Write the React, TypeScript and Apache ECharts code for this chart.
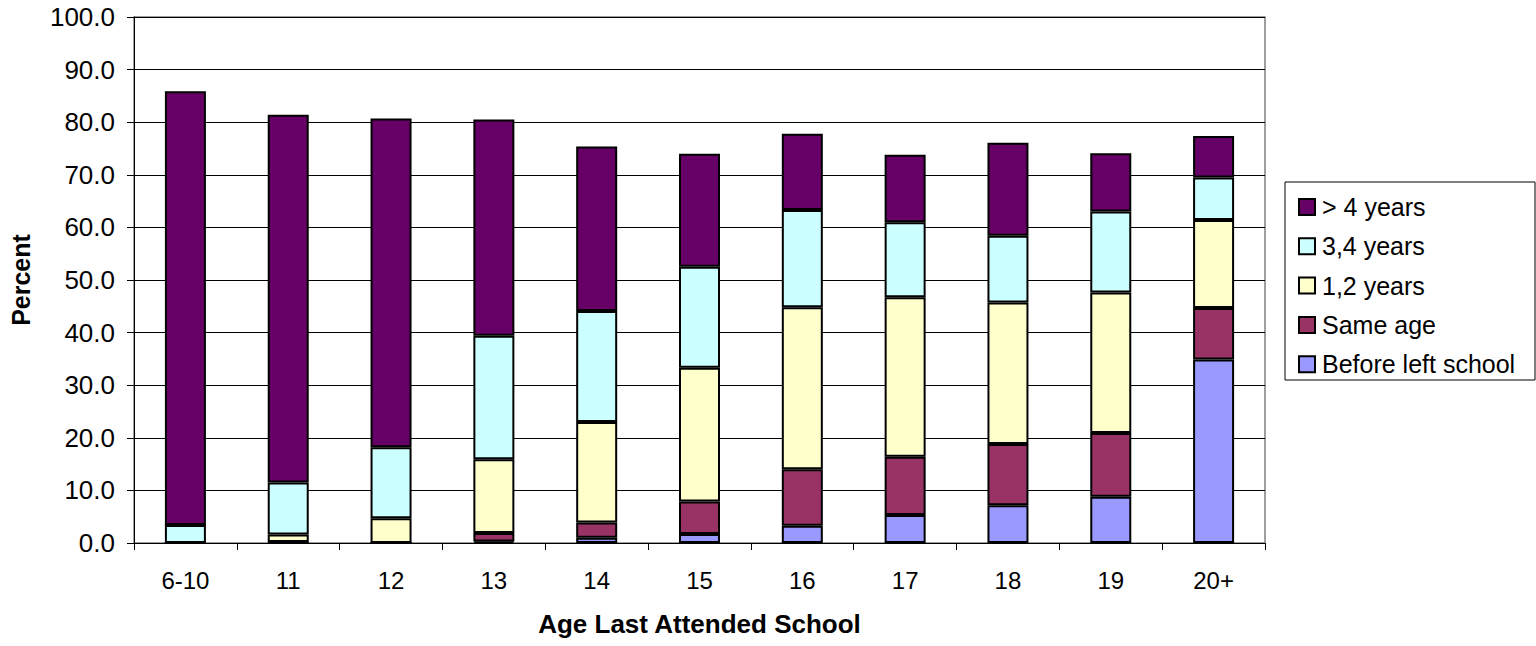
import React, { useEffect, useRef } from "react";
import * as echarts from "echarts";

const categories = ["6-10", "11", "12", "13", "14", "15", "16", "17", "18", "19", "20+"];

const beforeLeftSchool = [0, 0, 0, 0.3, 1.0, 1.7, 3.3, 5.3, 7.2, 8.8, 34.9];
const sameAge = [0, 0.2, 0, 1.6, 2.9, 6.2, 10.7, 11.1, 11.6, 12.1, 9.8];
const oneTwoYears = [0, 1.4, 4.7, 14.0, 19.1, 25.4, 30.8, 30.3, 26.9, 26.7, 16.7];
const threeFourYears = [3.4, 9.9, 13.5, 23.5, 21.1, 19.2, 18.5, 14.3, 12.7, 15.4, 8.1];
const overFourYears = [82.5, 69.9, 62.5, 41.1, 31.3, 21.5, 14.5, 12.8, 17.7, 11.1, 7.9];

const seriesDefs = [
  { name: "Before left school", data: beforeLeftSchool, color: "#9999FF" },
  { name: "Same age", data: sameAge, color: "#993366" },
  { name: "1,2 years", data: oneTwoYears, color: "#FFFFCC" },
  { name: "3,4 years", data: threeFourYears, color: "#CCFFFF" },
  { name: "> 4 years", data: overFourYears, color: "#660066" },
];

const legendOrder = ["> 4 years", "3,4 years", "1,2 years", "Same age", "Before left school"];

const FONT = "'Liberation Sans', Arial, sans-serif";

export default function App() {
  const ref = useRef<HTMLDivElement>(null);

  useEffect(() => {
    if (!ref.current) return;
    const chart = echarts.init(ref.current, null, { renderer: "svg" });
    chart.setOption({
      animation: false,
      backgroundColor: "#ffffff",
      textStyle: { fontFamily: FONT },
      grid: {
        left: 134,
        right: 271,
        top: 17,
        bottom: 103,
        containLabel: false,
        outerBoundsMode: "none",
        show: true,
        borderColor: "#808080",
        borderWidth: 1.5,
        backgroundColor: "transparent",
      },
      legend: {
        orient: "vertical",
        left: 1293,
        top: 189,
        data: legendOrder,
        icon: "rect",
        itemWidth: 16,
        itemHeight: 16,
        itemGap: 13.3,
        textStyle: {
          fontFamily: FONT,
          fontSize: 25,
          color: "#000",
          lineHeight: 26,
          padding: [0, 0, 0, 2],
        },
      },
      graphic: [
        {
          type: "rect",
          shape: { x: 1285, y: 182, width: 250, height: 198 },
          style: { fill: "none", stroke: "#000", lineWidth: 1 },
          silent: true,
        },
      ],
      xAxis: {
        type: "category",
        data: categories,
        name: "Age Last Attended School",
        nameLocation: "middle",
        nameGap: 68,
        nameTextStyle: { fontFamily: FONT, fontSize: 26, fontWeight: "bold", color: "#000" },
        axisLine: { lineStyle: { color: "#000", width: 1 } },
        axisTick: { show: true, length: 7, alignWithLabel: false, lineStyle: { color: "#000" } },
        axisLabel: { fontFamily: FONT, fontSize: 24, color: "#000", margin: 25 },
      },
      yAxis: {
        type: "value",
        min: 0,
        max: 100,
        interval: 10,
        name: "Percent",
        nameLocation: "middle",
        nameGap: 101,
        nameTextStyle: { fontFamily: FONT, fontSize: 25, fontWeight: "bold", color: "#000" },
        axisLine: { show: true, lineStyle: { color: "#000", width: 1 } },
        axisTick: { show: true, length: 7, lineStyle: { color: "#000" } },
        axisLabel: {
          fontFamily: FONT,
          fontSize: 26,
          color: "#000",
          margin: 19,
          formatter: (v: number) => v.toFixed(1),
        },
        splitLine: { show: true, lineStyle: { color: "#000", width: 1 } },
      },
      series: seriesDefs.map((s) => ({
        type: "bar",
        name: s.name,
        stack: "total",
        data: s.data,
        barWidth: 41,
        itemStyle: { color: s.color, borderColor: "#000", borderWidth: 2 },
        emphasis: { disabled: true },
      })),
    });
    return () => chart.dispose();
  }, []);

  return (
    <div
      ref={ref}
      style={{ position: "fixed", left: 0, top: 0, width: 1536, height: 646 }}
    />
  );
}
